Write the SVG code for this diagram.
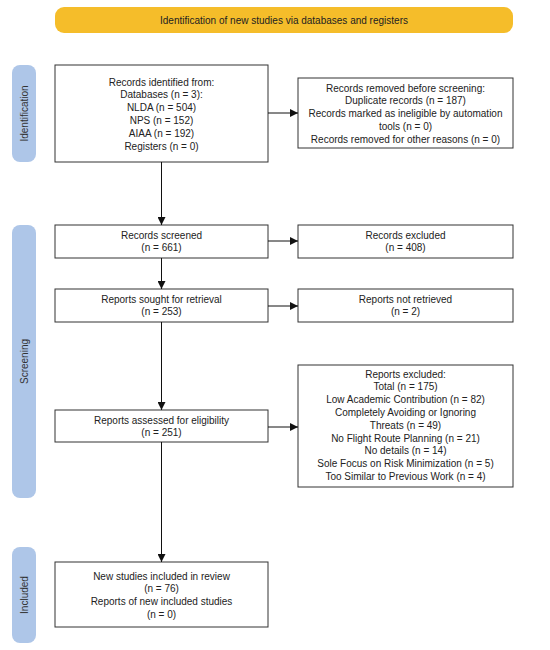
<svg xmlns="http://www.w3.org/2000/svg" width="550" height="650" viewBox="0 0 550 650">
<defs>
<marker id="ah" markerWidth="8" markerHeight="8" refX="8" refY="4" orient="auto" markerUnits="userSpaceOnUse">
<path d="M0,0 L8,4 L0,8 Z" fill="#111"/>
</marker>
<style>
.box{fill:#fff;stroke:#333;stroke-width:1}
.t{font-family:"Liberation Sans",Arial,sans-serif;font-size:10px;fill:#222;text-anchor:middle}
.side{fill:#aec6e8}
.st{font-family:"Liberation Sans",Arial,sans-serif;font-size:10px;fill:#333;text-anchor:middle}
.c{stroke:#111;stroke-width:1;fill:none;marker-end:url(#ah)}
</style>
</defs>
<rect width="550" height="650" fill="#fff"/>
<g id="banner">
<rect x="55" y="7" width="458" height="26" rx="9" fill="#f5bd2a"/>
<text class="t" x="284" y="23.5" font-size="9.8">Identification of new studies via databases and registers</text>
</g>
<g id="side-identification">
<rect class="side" x="12" y="65" width="24" height="97" rx="8"/>
<text class="st" transform="translate(27.5,113.5) rotate(-90)">Identification</text>
</g>
<g id="side-screening">
<rect class="side" x="12" y="225" width="24" height="273" rx="8"/>
<text class="st" transform="translate(27.5,361.5) rotate(-90)">Screening</text>
</g>
<g id="side-included">
<rect class="side" x="12" y="547" width="24" height="96" rx="8"/>
<text class="st" transform="translate(27.5,595) rotate(-90)">Included</text>
</g>
<g id="records-identified">
<rect class="box" x="55" y="65" width="213" height="97"/>
<text class="t" x="161.5" y="85.5">Records identified from:</text>
<text class="t" x="161.5" y="98.3">Databases (n = 3):</text>
<text class="t" x="161.5" y="111.1">NLDA (n = 504)</text>
<text class="t" x="161.5" y="123.9">NPS (n = 152)</text>
<text class="t" x="161.5" y="136.7">AIAA (n = 192)</text>
<text class="t" x="161.5" y="149.5">Registers (n = 0)</text>
</g>
<g id="records-removed">
<rect class="box" x="298" y="78" width="215" height="70"/>
<text class="t" x="405.5" y="91.5">Records removed before screening:</text>
<text class="t" x="405.5" y="104.3">Duplicate records (n = 187)</text>
<text class="t" x="405.5" y="117.1">Records marked as ineligible by automation</text>
<text class="t" x="405.5" y="129.9">tools (n = 0)</text>
<text class="t" x="405.5" y="142.7">Records removed for other reasons (n = 0)</text>
</g>
<g id="records-screened">
<rect class="box" x="55" y="225" width="213" height="33"/>
<text class="t" x="161.5" y="238.5">Records screened</text>
<text class="t" x="161.5" y="251.3">(n = 661)</text>
</g>
<g id="records-excluded">
<rect class="box" x="298" y="225" width="215" height="33"/>
<text class="t" x="405.5" y="238.5">Records excluded</text>
<text class="t" x="405.5" y="251.3">(n = 408)</text>
</g>
<g id="reports-sought">
<rect class="box" x="55" y="289" width="213" height="33"/>
<text class="t" x="161.5" y="302.5">Reports sought for retrieval</text>
<text class="t" x="161.5" y="315.3">(n = 253)</text>
</g>
<g id="reports-not-retrieved">
<rect class="box" x="298" y="289" width="215" height="33"/>
<text class="t" x="405.5" y="302.5">Reports not retrieved</text>
<text class="t" x="405.5" y="315.3">(n = 2)</text>
</g>
<g id="reports-assessed">
<rect class="box" x="55" y="410" width="213" height="32"/>
<text class="t" x="161.5" y="423.5">Reports assessed for eligibility</text>
<text class="t" x="161.5" y="436.3">(n = 251)</text>
</g>
<g id="reports-excluded">
<rect class="box" x="298" y="365" width="215" height="122"/>
<text class="t" x="405.5" y="377.5">Reports excluded:</text>
<text class="t" x="405.5" y="390.3">Total (n = 175)</text>
<text class="t" x="405.5" y="403.1">Low Academic Contribution (n = 82)</text>
<text class="t" x="405.5" y="415.9">Completely Avoiding or Ignoring</text>
<text class="t" x="405.5" y="428.7">Threats (n = 49)</text>
<text class="t" x="405.5" y="441.5">No Flight Route Planning (n = 21)</text>
<text class="t" x="405.5" y="454.3">No details (n = 14)</text>
<text class="t" x="405.5" y="467.1">Sole Focus on Risk Minimization (n = 5)</text>
<text class="t" x="405.5" y="479.9">Too Similar to Previous Work (n = 4)</text>
</g>
<g id="included">
<rect class="box" x="55" y="562" width="213" height="65"/>
<text class="t" x="161.5" y="579.5">New studies included in review</text>
<text class="t" x="161.5" y="592.3">(n = 76)</text>
<text class="t" x="161.5" y="605.1">Reports of new included studies</text>
<text class="t" x="161.5" y="617.9">(n = 0)</text>
</g>
<g id="connectors">
<line class="c" x1="268" y1="113" x2="298" y2="113"/>
<line class="c" x1="161.5" y1="162" x2="161.5" y2="225"/>
<line class="c" x1="268" y1="241" x2="298" y2="241"/>
<line class="c" x1="161.5" y1="258" x2="161.5" y2="289"/>
<line class="c" x1="268" y1="306" x2="298" y2="306"/>
<line class="c" x1="161.5" y1="322" x2="161.5" y2="410"/>
<line class="c" x1="268" y1="427" x2="298" y2="427"/>
<line class="c" x1="161.5" y1="442" x2="161.5" y2="562"/>
</g>
</svg>
